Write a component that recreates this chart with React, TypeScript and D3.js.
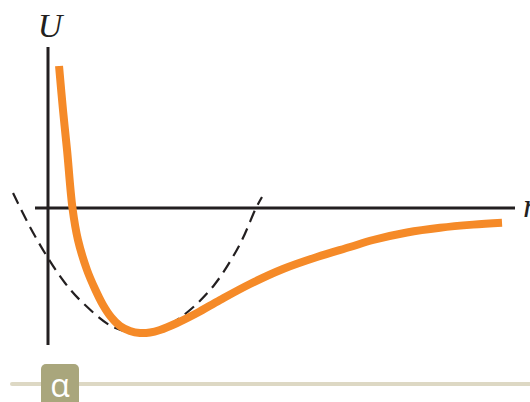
import React from "react";
import * as d3 from "d3";

// Interatomic potential U(r): sampled potential curve and its harmonic approximation
const potentialR = [0.12, 0.163, 0.207, 0.266, 0.326, 0.424, 0.511, 0.598, 0.685, 0.783, 0.891, 1.0, 1.109, 1.217, 1.402, 1.62, 1.87, 2.196, 2.554, 2.924, 3.283, 3.533, 3.902, 4.261, 4.62, 4.935];
const potentialU = [1.136, 0.784, 0.464, 0, -0.256, -0.496, -0.648, -0.776, -0.872, -0.944, -0.984, -1.0, -0.996, -0.976, -0.92, -0.84, -0.736, -0.608, -0.488, -0.392, -0.312, -0.256, -0.196, -0.158, -0.133, -0.118];

const harmonicR = [-0.38, -0.196, 0, 0.185, 0.38, 0.707, 1.0, 1.272, 1.543, 1.815, 2.087, 2.261, 2.326];
const harmonicU = [0.12, -0.152, -0.4, -0.6, -0.76, -0.952, -1.0, -0.952, -0.816, -0.608, -0.288, 0, 0.088];

const axisLabels = { y: "U", x: "r" };
const badgeLabel = "α";

const W = 530;
const H = 402;

export default function App() {
  const x = d3.scaleLinear().domain([0, 5]).range([48, 508]);
  const y = d3.scaleLinear().domain([-1, 0]).range([333, 208]);

  const line = d3
    .line<[number, number]>()
    .x((d) => x(d[0]))
    .y((d) => y(d[1]))
    .curve(d3.curveCatmullRom.alpha(0.5));

  const potential = potentialR.map((r, i) => [r, potentialU[i]] as [number, number]);
  const harmonic = harmonicR.map((r, i) => [r, harmonicU[i]] as [number, number]);

  const axisColor = "#231f20";

  return (
    <svg
      width={W}
      height={H}
      style={{ position: "absolute", left: 0, top: 0, background: "#fff" }}
    >
      {/* axes */}
      <line x1={x(0)} x2={x(0)} y1={47} y2={345} stroke={axisColor} strokeWidth={3} />
      <line x1={35} x2={515} y1={y(0)} y2={y(0)} stroke={axisColor} strokeWidth={3} />

      {/* harmonic approximation */}
      <path
        d={line(harmonic) ?? ""}
        fill="none"
        stroke="#231f20"
        strokeWidth={2.2}
        strokeDasharray="12 7"
      />

      {/* potential curve */}
      <path d={line(potential) ?? ""} fill="none" stroke="#f58a28" strokeWidth={8} />

      {/* axis labels */}
      <text
        x={50}
        y={37}
        textAnchor="middle"
        fontFamily="'Liberation Serif', serif"
        fontStyle="italic"
        fontSize={34}
        fill={axisColor}
      >
        {axisLabels.y}
      </text>
      <text
        x={523}
        y={217}
        fontFamily="'Liberation Serif', serif"
        fontStyle="italic"
        fontSize={34}
        fill={axisColor}
      >
        {axisLabels.x}
      </text>

      {/* bottom slider bar */}
      <line x1={12} x2={530} y1={384} y2={384} stroke="#ddd8c4" strokeWidth={4} strokeLinecap="round" />
      <rect x={41} y={364} width={38} height={44} rx={5} fill="#a9a67c" />
      <text
        x={60}
        y={397}
        textAnchor="middle"
        fontFamily="'Open Sans', sans-serif"
        fontSize={32}
        fill="#ffffff"
      >
        {badgeLabel}
      </text>
    </svg>
  );
}
